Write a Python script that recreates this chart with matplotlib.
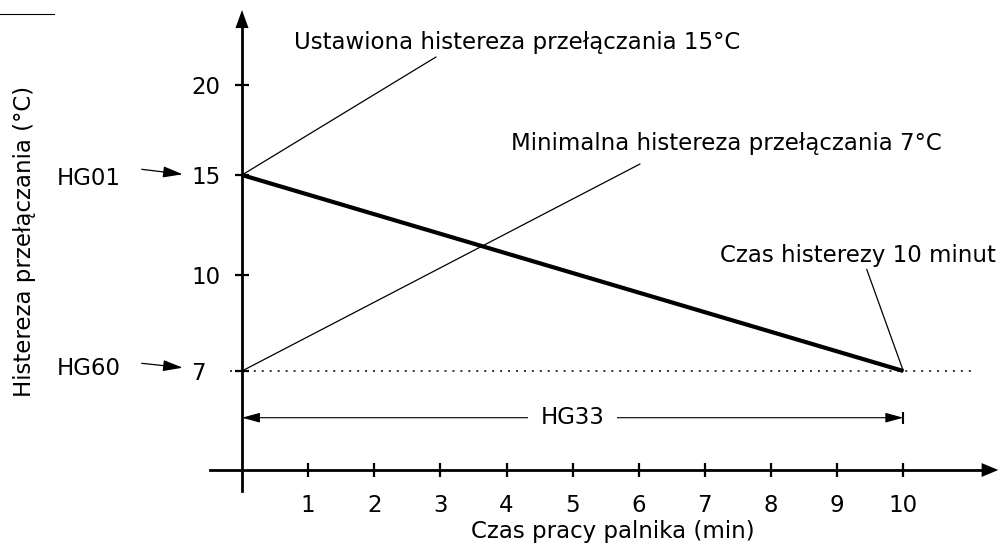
import numpy as np
import matplotlib
matplotlib.use("Agg")
import matplotlib.pyplot as plt
from matplotlib.lines import Line2D

# ---- data ----------------------------------------------------------------
burner_time = [0, 10]          # burner run time (min)
hysteresis = [15, 7]           # switching hysteresis (°C): HG01 -> HG60 over HG33
hg01_value = 15
hg60_value = 7
hg33_value = 10
x_ticks = [1, 2, 3, 4, 5, 6, 7, 8, 9, 10]
y_ticks = [7, 10, 15, 20]
y_tick_labels = ["7", "10", "15", "20"]
x_label = "Czas pracy palnika (min)"
y_label = "Histereza przełączania (°C)"
label_set = "Ustawiona histereza przełączania 15°C"
label_min = "Minimalna histereza przełączania 7°C"
label_time = "Czas histerezy 10 minut"

# ---- layout --------------------------------------------------------------
W, H = 1002, 546
FS = 16.5
plt.rcParams["font.family"] = ["DejaVu Sans"]

X0 = 242.0                      # pixel column of the temperature axis
XU = (903.3 - X0) / 10.0        # pixels per minute
AXIS_ROW = 470.0                # pixel row of the time axis

# schematic (non-proportional) spacing of the temperature ticks
Y_HEIGHT = np.array([99.0, 195.0, 295.0, 385.0])
Y_KNOT = np.array(y_ticks, dtype=float)


def _piecewise(v, xs, ys):
    v = np.asarray(v, dtype=float)
    out = np.interp(v, xs, ys)
    s_lo = (ys[1] - ys[0]) / (xs[1] - xs[0])
    s_hi = (ys[-1] - ys[-2]) / (xs[-1] - xs[-2])
    out = np.where(v < xs[0], ys[0] + (v - xs[0]) * s_lo, out)
    out = np.where(v > xs[-1], ys[-1] + (v - xs[-1]) * s_hi, out)
    return out


def fwd(v):
    return _piecewise(v, Y_KNOT, Y_HEIGHT)


def inv(h):
    return _piecewise(h, Y_HEIGHT, Y_KNOT)


def yv(row):
    """temperature value drawn at a given pixel row"""
    return float(inv(AXIS_ROW - row))


def xv(col):
    return (col - X0) / XU


def ff(col, row):
    return (col / W, 1.0 - row / H)


fig = plt.figure(figsize=(W / 100, H / 100), dpi=100)
ax = fig.add_axes([0, 0, 1, 1])
ax.set_facecolor("white")
ax.set_xlim(xv(0), xv(W))
ax.set_yscale("function", functions=(fwd, inv))
ax.set_ylim(yv(H), yv(0))

# ---- axes with arrow heads ----------------------------------------------
for side in ("top", "right"):
    ax.spines[side].set_visible(False)
ax.spines["left"].set_position(("data", 0))
ax.spines["left"].set_bounds(yv(490.7), yv(28))
ax.spines["bottom"].set_position(("data", yv(AXIS_ROW)))
ax.spines["bottom"].set_bounds(xv(210), xv(982))
for side in ("left", "bottom"):
    ax.spines[side].set_linewidth(2.0)

head = dict(mutation_scale=10, fc="k", ec="none", lw=0, shrinkA=0, shrinkB=0)
ax.annotate("", xy=(0, yv(10)), xytext=(0, yv(28)),
            arrowprops=dict(arrowstyle="-|>,head_length=1.3,head_width=0.47", **head))
ax.annotate("", xy=(xv(998.3), yv(AXIS_ROW)), xytext=(xv(982), yv(AXIS_ROW)),
            arrowprops=dict(arrowstyle="-|>,head_length=1.2,head_width=0.5", **head))

ax.set_xticks(x_ticks)
ax.set_yticks(y_ticks, y_tick_labels)
ax.yaxis.set_minor_locator(matplotlib.ticker.NullLocator())
ax.tick_params(axis="both", direction="inout", width=1.6, labelsize=FS, colors="k")
ax.tick_params(axis="x", length=10, pad=12)
ax.tick_params(axis="y", length=9.5, pad=32)
for t in ax.get_yticklabels():
    t.set_ha("left")

ax.set_xlabel(x_label, fontsize=FS, va="baseline", ha="center")
ax.xaxis.set_label_coords(612.5 / W, 1 - 538 / H)
ax.set_ylabel(y_label, fontsize=FS, va="center", ha="center")
ax.yaxis.set_label_coords(25 / W, 1 - 241.5 / H)

# ---- hysteresis curve and reference line --------------------------------
ax.axhline(hg60_value, xmin=230 / W, xmax=971.7 / W, color="k", lw=1.1,
           linestyle=(0, (1.3, 3.9)))
ax.plot(burner_time, hysteresis, color="k", lw=3, solid_capstyle="butt")

# ---- callouts ------------------------------------------------------------
leader = dict(arrowstyle="-", color="k", lw=0.9, shrinkA=0, shrinkB=0)
ax.annotate("", xy=(burner_time[0], hg01_value), xytext=ff(436, 57),
            textcoords="figure fraction", arrowprops=leader)
ax.annotate("", xy=(burner_time[0], hg60_value), xytext=ff(640, 164),
            textcoords="figure fraction", arrowprops=leader)
ax.annotate("", xy=(hg33_value, hg60_value), xytext=ff(866.7, 269.3),
            textcoords="figure fraction", arrowprops=leader)

text_kw = dict(xycoords="figure fraction", ha="left", va="baseline", fontsize=FS)
ax.annotate(label_set, xy=ff(294, 49), **text_kw)
ax.annotate(label_min, xy=ff(511, 150), **text_kw)
ax.annotate(label_time, xy=ff(720, 262), **text_kw)
ax.annotate("HG01", xy=ff(57, 185), **text_kw)
ax.annotate("HG60", xy=ff(57, 375), **text_kw)

small_head = dict(mutation_scale=10, fc="k", ec="k", lw=0.9, shrinkA=0, shrinkB=0)
ax.annotate("", xy=ff(182.7, 174.3), xytext=ff(141.7, 169.3), xycoords="figure fraction",
            arrowprops=dict(arrowstyle="-|>,head_length=1.2,head_width=0.34", **small_head))
ax.annotate("", xy=ff(182.7, 367.7), xytext=ff(141.7, 363.3), xycoords="figure fraction",
            arrowprops=dict(arrowstyle="-|>,head_length=1.2,head_width=0.34", **small_head))

# HG33 span along the time axis
span_row = 1 - 417.7 / H
ax.annotate("", xy=(0, span_row), xytext=(hg33_value, span_row),
            xycoords=("data", "figure fraction"),
            arrowprops=dict(arrowstyle="<|-|>,head_length=1.1,head_width=0.3",
                            mutation_scale=10, fc="k", ec="k", lw=0.8,
                            shrinkA=0, shrinkB=0))
ax.plot([hg33_value, hg33_value], [1 - 412 / H, 1 - 423.5 / H],
        transform=ax.get_xaxis_transform(), color="k", lw=1.5, solid_capstyle="butt")
ax.text(hg33_value / 2, 1 - 424 / H, "HG33", transform=ax.get_xaxis_transform(),
        ha="center", va="baseline", fontsize=FS,
        bbox=dict(boxstyle="square,pad=0.55", fc="white", ec="none"))

# short rule in the upper-left corner
fig.add_artist(Line2D([0, 54 / W], [1 - 14 / H, 1 - 14 / H], transform=fig.transFigure,
                      color="k", lw=0.8))

fig.savefig("out.png", dpi=100, facecolor="white")
